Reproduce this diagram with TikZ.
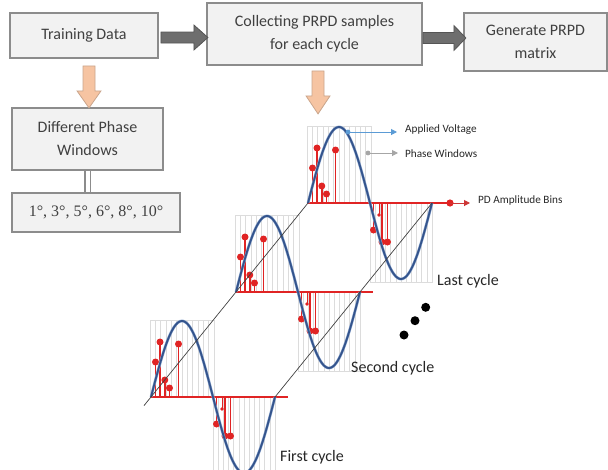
\documentclass[tikz,border=0pt]{standalone}
\usepackage{fontspec}
\setmainfont{Carlito}
\newfontfamily\degfont{Liberation Serif}
\usetikzlibrary{calc,arrows.meta}

\definecolor{boxfill}{HTML}{F2F2F2}
\definecolor{boxline}{HTML}{8C8C8C}
\definecolor{boxtext}{HTML}{404040}
\definecolor{darkarrow}{HTML}{6E6E6E}
\definecolor{darkarrowline}{HTML}{555555}
\definecolor{peach}{HTML}{F6C4A2}
\definecolor{peachline}{HTML}{C9A58C}
\definecolor{wave}{HTML}{34548C}
\definecolor{wavehalo}{HTML}{8FA8CF}
\definecolor{pdred}{HTML}{E02424}
\definecolor{winline}{HTML}{DCDCDC}
\definecolor{voltblue}{HTML}{5B9BD5}
\definecolor{labeltext}{HTML}{262626}

% one PRPD cycle: #1 = origin, #2 = length of the red amplitude axis
\newcommand\prpdcycle[2]{%
  \begin{scope}[shift={#1}]
    % phase windows of the positive and negative half cycle
    \draw[winbox] (-1,-77) rectangle (63,0);
    \foreach \k in {1,...,11} \draw[winrule] ({-1+\k*5.33},-77) -- ++(0,77);
    \draw[winbox] (62,0) rectangle (124,79);
    \foreach \k in {1,...,11} \draw[winrule] ({62+\k*5.17},0) -- ++(0,79);
    % PD pulses
    \foreach \dx/\h in {4.5/35, 9/55, 13.8/17, 18.5/9, 27.5/53}{
      \draw[stem] (\dx,0) -- (\dx,-\h);
      \fill[pdred] (\dx,-\h) circle (3.5pt);
    }
    \foreach \dx/\h in {65.5/27, 74/39, 79.5/39}{
      \draw[stem] (\dx,0) -- (\dx,\h);
      \fill[pdred] (\dx,\h) circle (3.5pt);
    }
    \draw[stem, line width=0.9pt] (71,0) -- (71,12);
    \fill[pdred] (71,12) circle (1.8pt);
    % amplitude axis
    \draw[pdaxis] (0,0) -- (#2,0);
    % applied voltage
    \draw[wavecurve] plot[domain=0:124, samples=90, smooth] (\x, {-76*sin(\x/124*360)});
  \end{scope}%
}

\begin{document}
\begin{tikzpicture}[x=1pt,y=-1pt,
  flowbox/.style={draw=boxline, line width=1.8pt, fill=boxfill, text=boxtext,
    font=\fontsize{16}{23}\selectfont, align=center, inner sep=0pt},
  blockarrow/.style={fill=darkarrow, draw=darkarrowline, line width=0.8pt},
  downarrow/.style={fill=peach, draw=peachline, line width=0.8pt},
  winbox/.style={draw=winline, line width=0.8pt},
  winrule/.style={draw=winline, line width=0.6pt},
  stem/.style={draw=pdred, line width=1.5pt},
  pdaxis/.style={draw=pdred, line width=1.8pt},
  wavecurve/.style={draw=wave, line width=1.8pt,
    preaction={draw=wavehalo, line width=2.8pt}},
  guide/.style={draw=black!75, line width=0.7pt},
  smalllabel/.style={font=\fontsize{11.2}{13}\selectfont, text=labeltext, anchor=west, inner sep=0pt},
  cyclelabel/.style={font=\fontsize{16}{19}\selectfont, text=labeltext, anchor=west, inner sep=0pt}]

\useasboundingbox (0,0) rectangle (608,469);
\clip (0,0) rectangle (608,469);

% flow chart
\node[flowbox, minimum width=148pt, minimum height=45pt] (train) at (84,35.5) {Training Data};
\node[flowbox, minimum width=215pt, minimum height=62pt] (collect) at (314.5,34) {Collecting PRPD samples\\for each cycle};
\node[flowbox, minimum width=143pt, minimum height=58pt] (matrix) at (535.5,42) {Generate PRPD\\matrix};
\node[flowbox, minimum width=151pt, minimum height=62pt] (phase) at (87.5,139) {Different Phase\\Windows};
\node[flowbox, minimum width=168pt, minimum height=39pt, font=\degfont\fontsize{16}{19}\selectfont] (angles) at (96,212.5) {1°, 3°, 5°, 6°, 8°, 10°};

% block arrows between the boxes
\begin{scope}[shift={(train.east)}]
  \draw[blockarrow] (2,-3.5) -- (35,-3.5) -- (35,-10.5) -- (49,2) -- (35,14.5) -- (35,7.5) -- (2,7.5) -- cycle;
\end{scope}
\begin{scope}[shift={(collect.east)}]
  \draw[blockarrow] (0,-1.5) -- (31,-1.5) -- (31,-8.5) -- (43,4) -- (31,16.5) -- (31,9.5) -- (0,9.5) -- cycle;
\end{scope}
\begin{scope}[shift={($(train.south)+(5,7)$)}]
  \draw[downarrow] (-6,0) -- (6,0) -- (6,25) -- (12,25) -- (0,42) -- (-12,25) -- (-6,25) -- cycle;
\end{scope}
\begin{scope}[shift={($(collect.south)+(3.5,5)$)}]
  \draw[downarrow] (-6,0) -- (6,0) -- (6,25) -- (12,25) -- (0,43) -- (-12,25) -- (-6,25) -- cycle;
\end{scope}
\draw[draw=boxline, double=white, line width=1.2pt, double distance=4pt] (phase.south) -- (phase.south |- angles.north);

% PRPD cycles
\coordinate (c1) at (151,397);
\coordinate (c2) at (236,292);
\coordinate (c3) at (308,203);
\prpdcycle{(c1)}{137}
\prpdcycle{(c2)}{137}
\prpdcycle{(c3)}{142}

% guide lines joining the cycles
\draw[guide] ($(c1)+(-7,8.6)$) -- (c3);
\draw[guide] ($(c1)+(124,0)$) -- ($(c3)+(124,0)$);

% amplitude bins arrow
\coordinate (binend) at ($(c3)+(142,0)$);
\fill[pdred] (binend) circle (3.6pt);
\node[smalllabel] (bins) at (478,201) {PD Amplitude Bins};
\draw[draw=pdred!80!gray, line width=1pt, -{Triangle[length=6pt,width=6pt]}] (binend) -- ($(binend -| bins.west)+(-8,0)$);

% legend
\coordinate (av) at (348,132);
\node[smalllabel] (avlabel) at (405,130) {Applied Voltage};
\draw[draw=voltblue, line width=1pt, -{Triangle[length=6pt,width=6pt]}] (av) -- ($(av -| avlabel.west)+(-8,0)$);
\fill[voltblue] (av) circle (2.4pt);
\coordinate (pw) at (368,153);
\node[smalllabel] (pwlabel) at (405,154) {Phase Windows};
\fill[gray!70] (pw) circle (2.4pt);
\draw[draw=gray!70, line width=1pt, -{Triangle[length=6pt,width=6pt]}] (pw) -- ($(pw -| pwlabel.west)+(-7,0)$);

% cycle names
\node[cyclelabel] (last) at (437,281) {Last cycle};
\node[cyclelabel] (second) at (351,368) {Second cycle};
\node[cyclelabel] (first) at (280,457) {First cycle};

% ellipsis between the cycles
\fill[black] (425.7,307.3) circle (4.5pt) (415,320.7) circle (4.5pt) (404,335) circle (4.5pt);

\end{tikzpicture}
\end{document}
